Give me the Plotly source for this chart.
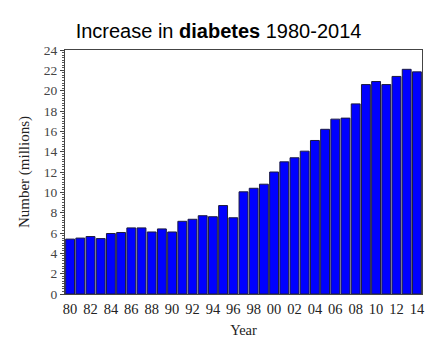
import plotly.graph_objects as go

years = list(range(1980, 2015))
values = [5.4, 5.5, 5.65, 5.45, 5.95, 6.05, 6.5, 6.5, 6.1, 6.4, 6.1, 7.15, 7.35, 7.7, 7.6, 8.7, 7.5,
          10.05, 10.4, 10.8, 12.0, 13.0, 13.4, 14.05, 15.1, 16.2, 17.2, 17.3, 18.7, 20.6, 20.9,
          20.6, 21.4, 22.1, 21.85]
x_tickvals = list(range(1980, 2015, 2))
x_ticktext = [f"{y % 100:02d}" for y in x_tickvals]
y_tickvals = list(range(0, 25, 2))

fig = go.Figure(go.Bar(
    x=years, y=values,
    marker=dict(color="#0000FF", line=dict(color="#1a1a40", width=1)),
))

serif = "Liberation Serif"
fig.update_layout(
    width=428, height=350,
    margin=dict(l=65, r=3, t=50, b=56),
    paper_bgcolor="white", plot_bgcolor="white",
    bargap=0.13,
    showlegend=False,
    title=dict(
        text="Increase in <b>diabetes</b> 1980-2014",
        font=dict(family="Liberation Sans", size=20, color="black"),
        x=218.5 / 428, xanchor="center", y=1 - 31 / 350, yanchor="middle",
    ),
)
fig.update_xaxes(
    range=[1979.5, 2014.5],
    tickmode="array", tickvals=x_tickvals, ticktext=x_ticktext,
    tickfont=dict(family=serif, size=14.5, color="#222"),
    ticks="outside", ticklen=2, tickcolor="rgba(0,0,0,0)",
    showline=True, linecolor="#444", linewidth=1, mirror=True,
    showgrid=False, zeroline=False,
    title=dict(text="Year", font=dict(family=serif, size=14.5, color="#222"), standoff=8),
)
fig.update_yaxes(
    range=[0, 24],
    tickmode="array", tickvals=y_tickvals,
    tickfont=dict(family=serif, size=13.5, color="#444"),
    ticks="outside", ticklen=4, tickcolor="#444",
    minor=dict(ticks="outside", dtick=0.25, ticklen=2, tickcolor="#555", showgrid=False),
    showline=True, linecolor="#444", linewidth=1, mirror=True,
    showgrid=False, zeroline=False,
    title=dict(text="Number (millions)", font=dict(family=serif, size=15, color="#222"), standoff=10),
)

fig.write_html("out.html")
